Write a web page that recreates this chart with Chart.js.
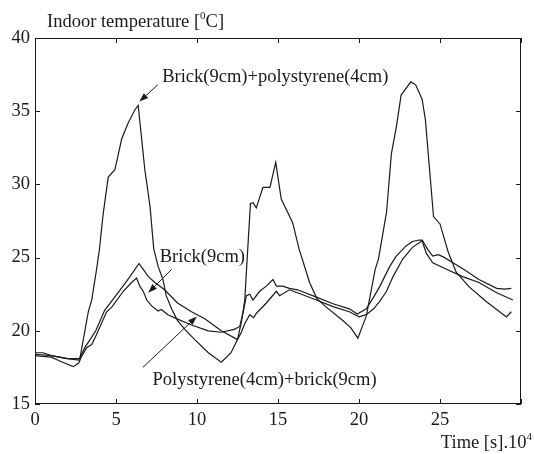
<!DOCTYPE html>
<html>
<head>
<meta charset="utf-8">
<title>Indoor temperature</title>
<script src="https://cdn.jsdelivr.net/npm/chart.js@4.4.0/dist/chart.umd.min.js"></script>
<style>
  html, body { margin: 0; padding: 0; background: #fff; }
  #wrap { width: 534px; height: 454px; }
</style>
</head>
<body>
<div id="wrap"><canvas id="tempChart" width="534" height="454"></canvas></div>
<script>
// time axis in 10^4 s, temperature in degC
const xTicks = [0, 5, 10, 15, 20, 25, 30];
const yTicks = [15, 20, 25, 30, 35, 40];

// Brick(9cm)+polystyrene(4cm)
const brickPolyX = [0, 1, 2, 2.5, 2.77, 3.29, 3.5, 3.8, 3.97, 4.21, 4.52, 4.93, 5.35, 5.75, 6.17, 6.37, 6.78, 7.1, 7.33, 7.6, 7.9, 8.1, 8.43, 8.8, 9.25, 9.86, 10.7, 11.5, 12.1, 12.5, 12.74, 12.95, 13.1, 13.3, 13.46, 13.66, 14.07, 14.5, 14.86, 15.2, 15.9, 16.3, 16.95, 17.4, 18.0, 19.0, 19.5, 19.93, 20.45, 21.0, 21.2, 21.7, 22.0, 22.3, 22.6, 23.2, 23.5, 23.9, 24.1, 24.6, 25.0, 25.5, 26.0, 26.8, 27.85, 29.1, 29.4];
const brickPolyY = [18.4, 18.3, 18.1, 18.1, 18.1, 21.3, 22.1, 24.2, 25.5, 28.0, 30.5, 31.0, 33.1, 34.2, 35.1, 35.4, 31.0, 28.5, 25.6, 24.4, 23.5, 22.4, 21.5, 20.7, 20.1, 19.4, 18.5, 17.85, 18.5, 19.4, 20.6, 22.1, 25.0, 28.7, 28.75, 28.4, 29.8, 29.8, 31.5, 29.0, 27.4, 25.6, 23.3, 22.2, 21.6, 20.7, 20.2, 19.5, 21.0, 24.2, 24.9, 28.1, 32.1, 33.9, 36.1, 37.0, 36.8, 35.8, 34.4, 27.8, 27.3, 25.4, 24.0, 23.0, 22.0, 20.95, 21.3];

// Brick(9cm)
const brickX = [0, 0.5, 1, 2, 2.7, 3.1, 3.4, 3.75, 4.3, 4.65, 5.4, 5.96, 6.42, 6.68, 7.0, 7.4, 8.0, 8.8, 9.66, 10.5, 11.5, 12.5, 12.74, 12.95, 13.26, 13.5, 13.67, 14.28, 14.9, 15.1, 15.7, 16.2, 17.37, 18.4, 19.4, 20.0, 20.45, 20.9, 21.27, 21.7, 22.1, 22.7, 23.3, 23.9, 24.15, 24.55, 25.4, 26.4, 27.4, 28.5, 29.5];
const brickY = [18.5, 18.5, 18.3, 18.1, 18.0, 18.9, 19.4, 20.0, 21.4, 21.9, 23.0, 23.85, 24.6, 24.2, 23.7, 23.3, 22.8, 21.9, 21.3, 20.8, 20.0, 19.4, 19.9, 20.5, 21.1, 20.9, 21.2, 21.9, 22.7, 22.4, 22.8, 22.6, 22.1, 21.65, 21.3, 20.95, 21.1, 21.5, 22.0, 22.7, 23.7, 24.9, 25.7, 26.15, 25.3, 24.65, 24.2, 23.7, 23.3, 22.6, 22.1];

// Polystyrene(4cm)+brick(9cm)
const polyBrickX = [0, 1, 1.6, 2.36, 2.7, 2.85, 3.19, 3.5, 3.8, 4.42, 4.73, 5.45, 5.96, 6.27, 6.47, 6.68, 6.9, 7.2, 7.6, 7.8, 8.2, 8.8, 9.66, 10.7, 11.5, 12.3, 12.64, 12.84, 13.05, 13.26, 13.45, 13.87, 14.28, 14.69, 14.9, 15.3, 15.7, 16.2, 17.37, 18.4, 19.4, 19.9, 20.45, 20.9, 21.27, 21.9, 22.3, 22.9, 23.3, 23.7, 23.9, 24.25, 24.55, 24.9, 25.2, 25.8, 26.6, 27.4, 28.5, 29.0, 29.4];
const polyBrickY = [18.3, 18.2, 17.9, 17.55, 17.8, 18.2, 18.84, 19.06, 19.75, 21.3, 21.6, 22.7, 23.3, 23.6, 23.05, 22.7, 22.1, 21.7, 21.35, 21.45, 21.1, 20.8, 20.4, 20.0, 19.9, 20.1, 20.3, 21.2, 22.4, 22.5, 22.1, 22.7, 23.05, 23.5, 23.05, 23.05, 22.9, 22.8, 22.3, 21.85, 21.5, 21.15, 21.5, 22.3, 23.0, 24.4, 25.1, 25.8, 26.1, 26.2, 26.2, 25.55, 25.1, 25.2, 25.05, 24.65, 24.1, 23.5, 22.9, 22.85, 22.9];

const FONT = '"Liberation Serif", "Times New Roman", serif';
const INK = '#1a1a1a';

function toPoints(xs, ys) {
    return xs.map((x, i) => ({ x: x, y: ys[i] }));
}

function series(label, xs, ys) {
    return {
        label: label,
        data: toPoints(xs, ys),
        borderColor: INK,
        borderWidth: 1.2,
        pointRadius: 0,
        tension: 0,
        fill: false,
    };
}

// labels with arrows, placed in data units
const notes = [
    { text: 'Brick(9cm)+polystyrene(4cm)', x: 7.85, y: 37.35, from: [7.58, 36.8], to: [6.44, 35.66] },
    { text: 'Brick(9cm)', x: 7.7, y: 25.0, from: [8.43, 24.19], to: [6.99, 22.6] },
    { text: 'Polystyrene(4cm)+brick(9cm)', x: 7.25, y: 16.6, from: [6.66, 17.5], to: [9.99, 20.98] },
];

// text with one raised part, e.g. degree sign or power of ten
function drawParts(ctx, parts, x, y, align) {
    const big = '18.5px ' + FONT, small = '11px ' + FONT;
    let total = 0;
    parts.forEach(p => { ctx.font = p.sup ? small : big; total += ctx.measureText(p.t).width; });
    let cx = align === 'right' ? x - total : x;
    ctx.textAlign = 'left';
    ctx.textBaseline = 'alphabetic';
    parts.forEach(p => {
        ctx.font = p.sup ? small : big;
        ctx.fillText(p.t, cx, p.sup ? y - 8 : y);
        cx += ctx.measureText(p.t).width;
    });
}

function arrow(ctx, x1, y1, x2, y2) {
    const ang = Math.atan2(y2 - y1, x2 - x1);
    const len = 9, half = 3.2;
    const bx = x2 - len * Math.cos(ang), by = y2 - len * Math.sin(ang);
    ctx.beginPath();
    ctx.moveTo(x1, y1);
    ctx.lineTo(bx, by);
    ctx.stroke();
    ctx.beginPath();
    ctx.moveTo(x2, y2);
    ctx.lineTo(bx + half * Math.sin(ang), by - half * Math.cos(ang));
    ctx.lineTo(bx - half * Math.sin(ang), by + half * Math.cos(ang));
    ctx.closePath();
    ctx.fill();
}

const frameAndNotes = {
    id: 'frameAndNotes',
    afterDraw(chart) {
        const { ctx, chartArea: a, scales: { x, y } } = chart;
        ctx.save();
        ctx.strokeStyle = INK;
        ctx.fillStyle = INK;
        ctx.lineWidth = 1;

        // box
        ctx.strokeRect(a.left + 0.5, a.top + 0.5, a.right - a.left - 1, a.bottom - a.top - 1);

        // inward ticks on all four sides
        const t = 5;
        ctx.beginPath();
        xTicks.forEach(v => {
            const px = Math.round(x.getPixelForValue(v)) + 0.5;
            ctx.moveTo(px, a.bottom); ctx.lineTo(px, a.bottom - t);
            ctx.moveTo(px, a.top); ctx.lineTo(px, a.top + t);
        });
        yTicks.forEach(v => {
            const py = Math.round(y.getPixelForValue(v)) + 0.5;
            ctx.moveTo(a.left, py); ctx.lineTo(a.left + t, py);
            ctx.moveTo(a.right, py); ctx.lineTo(a.right - t, py);
        });
        ctx.stroke();

        // labels and arrows
        ctx.font = '18.5px ' + FONT;
        ctx.textAlign = 'left';
        ctx.textBaseline = 'middle';
        notes.forEach(n => {
            ctx.fillText(n.text, x.getPixelForValue(n.x), y.getPixelForValue(n.y));
            arrow(ctx,
                x.getPixelForValue(n.from[0]), y.getPixelForValue(n.from[1]),
                x.getPixelForValue(n.to[0]), y.getPixelForValue(n.to[1]));
        });

        // axis titles
        drawParts(ctx, [{ t: 'Indoor temperature [' }, { t: '0', sup: true }, { t: 'C]' }], a.left + 12, 27);
        drawParts(ctx, [{ t: 'Time [s].10' }, { t: '4', sup: true }], chart.width - 2, 448, 'right');
        ctx.restore();
    }
};

const ctx = document.getElementById('tempChart').getContext('2d');

const tempChart = new Chart(ctx, {
    type: 'line',
    data: {
        datasets: [
            series('Brick(9cm)+polystyrene(4cm)', brickPolyX, brickPolyY),
            series('Brick(9cm)', brickX, brickY),
            series('Polystyrene(4cm)+brick(9cm)', polyBrickX, polyBrickY),
        ],
    },
    options: {
        responsive: false,
        animation: false,
        layout: { padding: { top: 38, right: 13, left: 0, bottom: 0 } },
        plugins: {
            legend: { display: false },
            tooltip: { enabled: false },
        },
        scales: {
            x: {
                type: 'linear',
                min: 0,
                max: 30,
                grid: { display: false, drawTicks: false },
                border: { display: false },
                afterFit: s => { s.height = 50; },
                ticks: {
                    stepSize: 5,
                    padding: 5,
                    color: INK,
                    font: { family: FONT, size: 18.5 },
                    maxRotation: 0,
                    callback: v => (v === 30 ? '' : v),
                },
            },
            y: {
                min: 15,
                max: 40,
                grid: { display: false, drawTicks: false },
                border: { display: false },
                afterFit: s => { s.width = 35; },
                ticks: {
                    stepSize: 5,
                    padding: 5,
                    color: INK,
                    font: { family: FONT, size: 18.5 },
                },
            },
        },
    },
    plugins: [frameAndNotes],
});
</script>
</body>
</html>
